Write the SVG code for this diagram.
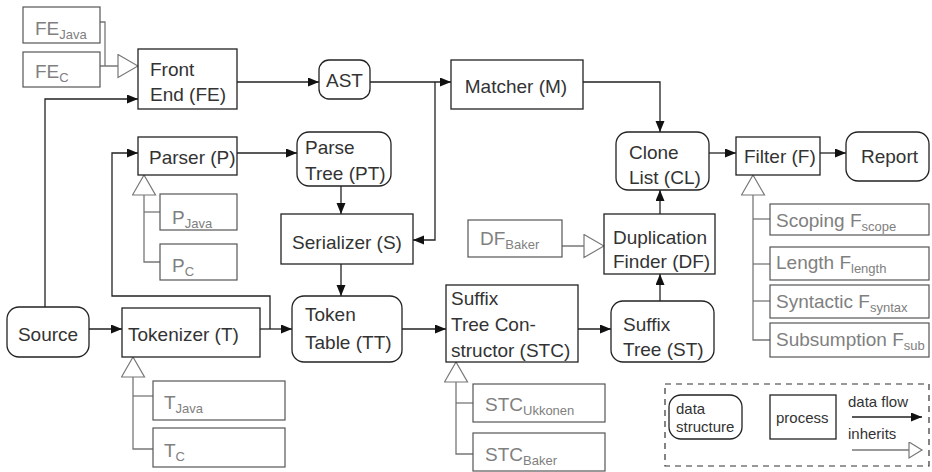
<svg xmlns="http://www.w3.org/2000/svg" width="932" height="472" viewBox="0 0 932 472">
<defs>
<style>
text{font-family:"Liberation Sans",Arial,sans-serif;font-size:19px;fill:#333}
.sub{font-size:13px}
.g text,text.g{fill:#808080}
.box{fill:#fff;stroke:#222;stroke-width:1.3}
.gbox{fill:#fff;stroke:#555;stroke-width:1.2}
.flow{fill:none;stroke:#222;stroke-width:1.3}
.inh{fill:none;stroke:#777;stroke-width:1.3}
.leg{font-size:15px}
</style>
<marker id="arr" markerUnits="userSpaceOnUse" markerWidth="12" markerHeight="10" refX="11" refY="4.5" orient="auto">
<path d="M0,0 L11,4.5 L0,9 z" fill="#111"/>
</marker>
<marker id="tri" markerUnits="userSpaceOnUse" markerWidth="22" markerHeight="26" refX="21" refY="12" orient="auto">
<path d="M1,0.5 L21,12 L1,23.5 z" fill="#fff" stroke="#777" stroke-width="1.2"/>
</marker>
<marker id="tris" markerUnits="userSpaceOnUse" markerWidth="16" markerHeight="20" refX="14" refY="8.5" orient="auto">
<path d="M1,0.5 L14,8.5 L1,16.5 z" fill="#fff" stroke="#777" stroke-width="1.2"/>
</marker>
</defs>
<rect width="932" height="472" fill="#fff"/>

<g id="connectors">
<!-- data flow -->
<path class="flow" d="M237,82 L319,82" marker-end="url(#arr)"/>
<path class="flow" d="M370,82 L451,82" marker-end="url(#arr)"/>
<path class="flow" d="M435,82 L435,240 L413,240" marker-end="url(#arr)"/>
<path class="flow" d="M583,82 L660,82 L660,132" marker-end="url(#arr)"/>
<path class="flow" d="M45,307 L45,99 L138,99" marker-end="url(#arr)"/>
<path class="flow" d="M237,153 L297,153" marker-end="url(#arr)"/>
<path class="flow" d="M341,186 L341,214" marker-end="url(#arr)"/>
<path class="flow" d="M341,264 L341,296" marker-end="url(#arr)"/>
<path class="flow" d="M89,329 L122,329" marker-end="url(#arr)"/>
<path class="flow" d="M260,329 L292,329" marker-end="url(#arr)"/>
<path class="flow" d="M270,329 L270,296 L112,296 L112,153 L138,153" marker-end="url(#arr)"/>
<path class="flow" d="M402,329 L446,329" marker-end="url(#arr)"/>
<path class="flow" d="M578,329 L611,329" marker-end="url(#arr)"/>
<path class="flow" d="M660,301 L660,274" marker-end="url(#arr)"/>
<path class="flow" d="M660,214 L660,190" marker-end="url(#arr)"/>
<path class="flow" d="M709,153 L736,153" marker-end="url(#arr)"/>
<path class="flow" d="M820,153 L846,153" marker-end="url(#arr)"/>
<!-- inheritance -->
<path class="inh" d="M100,22 L105,22 L105,66"/>
<path class="inh" d="M100,66 L138,66" marker-end="url(#tri)"/>
<path class="inh" d="M160,212 L144,212"/>
<path class="inh" d="M160,262 L144,262 L144,175" marker-end="url(#tri)"/>
<path class="inh" d="M153,396 L133,396"/>
<path class="inh" d="M153,449 L133,449 L133,357" marker-end="url(#tri)"/>
<path class="inh" d="M473,403 L456,403"/>
<path class="inh" d="M473,454 L456,454 L456,362" marker-end="url(#tri)"/>
<path class="inh" d="M562,246 L604,246" marker-end="url(#tri)"/>
<path class="inh" d="M770,219 L753,219"/>
<path class="inh" d="M770,264 L753,264"/>
<path class="inh" d="M770,301 L753,301"/>
<path class="inh" d="M770,340 L753,340 L753,175" marker-end="url(#tri)"/>
</g>

<g id="fe_java" class="g"><rect class="gbox" x="23" y="7" width="77" height="36"/><text x="35" y="35">FE<tspan class="sub" dy="4">Java</tspan></text></g>
<g id="fe_c" class="g"><rect class="gbox" x="23" y="52" width="77" height="35"/><text x="35" y="78">FE<tspan class="sub" dy="4">C</tspan></text></g>
<g id="front_end"><rect class="box" x="138" y="49" width="99" height="60"/><text x="150" y="76">Front</text><text x="150" y="101">End (FE)</text></g>
<g id="ast"><rect class="box" x="319" y="60" width="51" height="39" rx="10"/><text x="344.5" y="87" text-anchor="middle">AST</text></g>
<g id="matcher"><rect class="box" x="451" y="60" width="132" height="49"/><text x="516" y="93" text-anchor="middle">Matcher (M)</text></g>
<g id="parser"><rect class="box" x="138" y="137" width="99" height="38"/><text x="149" y="164">Parser (P)</text></g>
<g id="p_java" class="g"><rect class="gbox" x="160" y="194" width="77" height="36"/><text x="172" y="224">P<tspan class="sub" dy="4">Java</tspan></text></g>
<g id="p_c" class="g"><rect class="gbox" x="160" y="244" width="77" height="36"/><text x="172" y="272">P<tspan class="sub" dy="4">C</tspan></text></g>
<g id="parse_tree"><rect class="box" x="297" y="132" width="94" height="54" rx="12"/><text x="305" y="154">Parse</text><text x="305" y="180">Tree (PT)</text></g>
<g id="serializer"><rect class="box" x="281" y="214" width="132" height="50"/><text x="347" y="249" text-anchor="middle">Serializer (S)</text></g>
<g id="token_table"><rect class="box" x="292" y="296" width="110" height="66" rx="12"/><text x="305" y="321">Token</text><text x="305" y="349">Table (TT)</text></g>
<g id="source"><rect class="box" x="7" y="307" width="82" height="50" rx="12"/><text x="48" y="341" text-anchor="middle">Source</text></g>
<g id="tokenizer"><rect class="box" x="122" y="308" width="138" height="49"/><text x="128" y="341">Tokenizer (T)</text></g>
<g id="t_java" class="g"><rect class="gbox" x="153" y="381" width="132" height="39"/><text x="164" y="409">T<tspan class="sub" dy="4">Java</tspan></text></g>
<g id="t_c" class="g"><rect class="gbox" x="153" y="428" width="132" height="39"/><text x="164" y="457">T<tspan class="sub" dy="4">C</tspan></text></g>
<g id="stc"><rect class="box" x="446" y="285" width="132" height="77"/><text x="451" y="305">Suffix</text><text x="451" y="331">Tree Con-</text><text x="451" y="357">structor (STC)</text></g>
<g id="stc_ukkonen" class="g"><rect class="gbox" x="473" y="384" width="132" height="38"/><text x="485" y="411">STC<tspan class="sub" dy="4">Ukkonen</tspan></text></g>
<g id="stc_baker" class="g"><rect class="gbox" x="473" y="433" width="132" height="38"/><text x="485" y="461">STC<tspan class="sub" dy="4">Baker</tspan></text></g>
<g id="suffix_tree"><rect class="box" x="611" y="301" width="103" height="61" rx="12"/><text x="623" y="331">Suffix</text><text x="623" y="356">Tree (ST)</text></g>
<g id="duplication_finder"><rect class="box" x="604" y="214" width="111" height="60"/><text x="613" y="244">Duplication</text><text x="613" y="268">Finder (DF)</text></g>
<g id="df_baker" class="g"><rect class="gbox" x="468" y="220" width="94" height="37"/><text x="480" y="245">DF<tspan class="sub" dy="4">Baker</tspan></text></g>
<g id="clone_list"><rect class="box" x="616" y="132" width="93" height="58" rx="12"/><text x="629" y="159">Clone</text><text x="629" y="184">List (CL)</text></g>
<g id="filter"><rect class="box" x="736" y="137" width="84" height="38"/><text x="744" y="163">Filter (F)</text></g>
<g id="report"><rect class="box" x="846" y="132" width="83" height="49" rx="12"/><text x="861" y="163">Report</text></g>
<g id="f_scope" class="g"><rect class="gbox" x="770" y="204" width="159" height="31"/><text x="776" y="227">Scoping F<tspan class="sub" dy="4">scope</tspan></text></g>
<g id="f_length" class="g"><rect class="gbox" x="770" y="247" width="159" height="33"/><text x="776" y="269">Length F<tspan class="sub" dy="4">length</tspan></text></g>
<g id="f_syntax" class="g"><rect class="gbox" x="770" y="285" width="159" height="33"/><text x="776" y="308">Syntactic F<tspan class="sub" dy="4">syntax</tspan></text></g>
<g id="f_sub" class="g"><rect class="gbox" x="770" y="323" width="159" height="34"/><text x="776" y="346">Subsumption F<tspan class="sub" dy="4">sub</tspan></text></g>

<g id="legend">
<rect x="665" y="384" width="264" height="82" fill="none" stroke="#333" stroke-width="1.2" stroke-dasharray="6,5"/>
<rect class="box" x="669" y="395" width="73" height="44" rx="12"/>
<text class="leg" x="676" y="414">data</text>
<text class="leg" x="676" y="432">structure</text>
<rect class="box" x="770" y="395" width="66" height="44"/>
<text class="leg" x="776" y="423">process</text>
<text class="leg" x="848" y="407">data flow</text>
<path class="flow" d="M852,417 L922,417" marker-end="url(#arr)"/>
<text class="leg" x="848" y="439">inherits</text>
<path class="inh" d="M852,450 L922,450" marker-end="url(#tris)"/>
</g>
</svg>
